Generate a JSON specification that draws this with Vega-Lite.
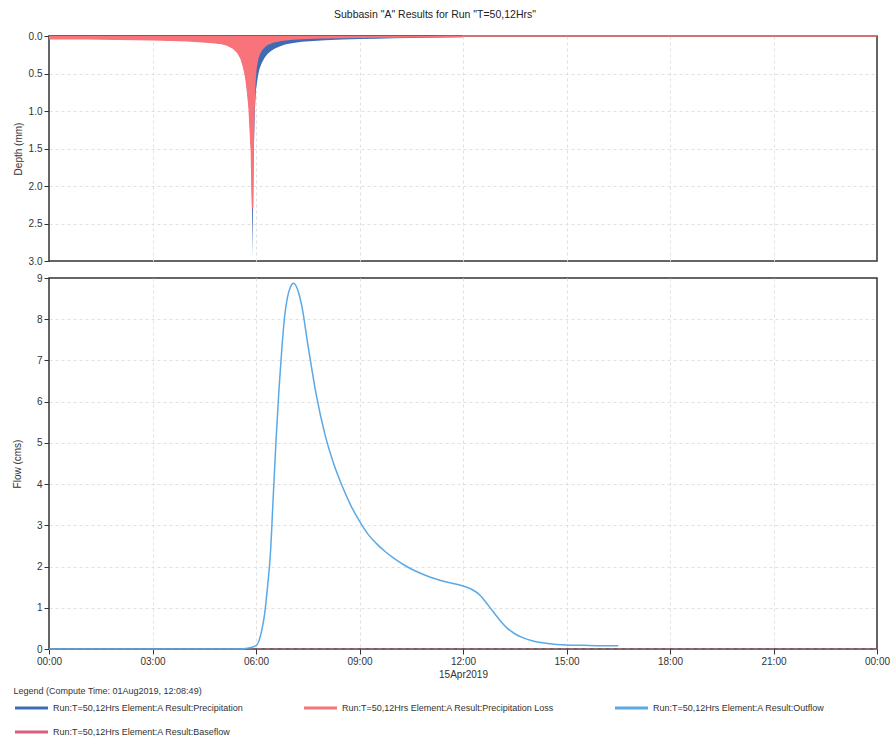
{
  "$schema": "https://vega.github.io/schema/vega-lite/v6.json",
  "title": {"text": "Subbasin \"A\" Results for Run \"T=50,12Hrs\"", "fontSize": 10.5, "fontWeight": "normal", "font": "Liberation Sans", "color": "#222", "anchor": "middle", "dx": -16, "offset": 10},
  "padding": {"left": 11, "top": 9, "right": 0, "bottom": 2},
  "spacing": 5,
  "config": {
    "font": "Liberation Sans",
    "view": {"stroke": "#333", "strokeWidth": 1.5},
    "area": {"opacity": 1, "fillOpacity": 1},
    "axis": {"labelFont": "Liberation Sans", "labelFontSize": 10, "labelColor": "#333", "titleFont": "Liberation Sans", "titleFontSize": 10, "titleFontWeight": "normal", "titleColor": "#333", "gridColor": "#e0e0e0", "gridDash": [3, 3], "tickColor": "#333", "domain": false, "tickSize": 5, "labelPadding": 2}
  },
  "vconcat": [
    {
      "width": 828,
      "height": 225,
      "data": {"values": [
        {"t": "2019-04-15T00:00", "p": 0.035, "l": 0.035},
        {"t": "2019-04-15T00:30", "p": 0.035, "l": 0.035},
        {"t": "2019-04-15T01:00", "p": 0.037, "l": 0.037},
        {"t": "2019-04-15T01:30", "p": 0.04, "l": 0.04},
        {"t": "2019-04-15T02:00", "p": 0.042, "l": 0.042},
        {"t": "2019-04-15T02:30", "p": 0.046, "l": 0.046},
        {"t": "2019-04-15T03:00", "p": 0.05, "l": 0.05},
        {"t": "2019-04-15T03:30", "p": 0.056, "l": 0.056},
        {"t": "2019-04-15T04:00", "p": 0.064, "l": 0.064},
        {"t": "2019-04-15T04:20", "p": 0.072, "l": 0.072},
        {"t": "2019-04-15T04:40", "p": 0.085, "l": 0.085},
        {"t": "2019-04-15T05:00", "p": 0.1, "l": 0.1},
        {"t": "2019-04-15T05:10", "p": 0.12, "l": 0.12},
        {"t": "2019-04-15T05:20", "p": 0.16, "l": 0.16},
        {"t": "2019-04-15T05:28", "p": 0.22, "l": 0.22},
        {"t": "2019-04-15T05:34", "p": 0.3, "l": 0.3},
        {"t": "2019-04-15T05:38", "p": 0.4, "l": 0.4},
        {"t": "2019-04-15T05:42", "p": 0.55, "l": 0.54},
        {"t": "2019-04-15T05:45", "p": 0.75, "l": 0.72},
        {"t": "2019-04-15T05:48", "p": 1.0, "l": 0.95},
        {"t": "2019-04-15T05:50", "p": 1.3, "l": 1.25},
        {"t": "2019-04-15T05:52", "p": 1.6, "l": 1.55},
        {"t": "2019-04-15T05:53", "p": 2.2, "l": 2.0},
        {"t": "2019-04-15T05:54", "p": 2.93, "l": 2.3},
        {"t": "2019-04-15T05:55", "p": 2.2, "l": 1.5},
        {"t": "2019-04-15T05:56", "p": 1.6, "l": 1.1},
        {"t": "2019-04-15T05:58", "p": 1.0, "l": 0.62},
        {"t": "2019-04-15T06:00", "p": 0.72, "l": 0.42},
        {"t": "2019-04-15T06:03", "p": 0.55, "l": 0.3},
        {"t": "2019-04-15T06:06", "p": 0.44, "l": 0.23},
        {"t": "2019-04-15T06:10", "p": 0.36, "l": 0.18},
        {"t": "2019-04-15T06:15", "p": 0.29, "l": 0.14},
        {"t": "2019-04-15T06:20", "p": 0.24, "l": 0.11},
        {"t": "2019-04-15T06:26", "p": 0.2, "l": 0.09},
        {"t": "2019-04-15T06:33", "p": 0.165, "l": 0.075},
        {"t": "2019-04-15T06:42", "p": 0.135, "l": 0.06},
        {"t": "2019-04-15T06:52", "p": 0.11, "l": 0.05},
        {"t": "2019-04-15T07:05", "p": 0.092, "l": 0.04},
        {"t": "2019-04-15T07:20", "p": 0.078, "l": 0.034},
        {"t": "2019-04-15T07:40", "p": 0.066, "l": 0.028},
        {"t": "2019-04-15T08:00", "p": 0.057, "l": 0.024},
        {"t": "2019-04-15T08:30", "p": 0.048, "l": 0.02},
        {"t": "2019-04-15T09:00", "p": 0.041, "l": 0.017},
        {"t": "2019-04-15T09:30", "p": 0.035, "l": 0.014},
        {"t": "2019-04-15T10:00", "p": 0.03, "l": 0.012},
        {"t": "2019-04-15T10:30", "p": 0.026, "l": 0.01},
        {"t": "2019-04-15T11:00", "p": 0.022, "l": 0.009},
        {"t": "2019-04-15T11:30", "p": 0.019, "l": 0.008},
        {"t": "2019-04-15T11:59", "p": 0.017, "l": 0.007},
        {"t": "2019-04-15T12:00", "p": 0, "l": 0},
        {"t": "2019-04-16T00:00", "p": null, "l": 0}
      ]},
      "layer": [
        {
          "transform": [{"filter": "datum.p != null"}],
          "mark": {"type": "area", "interpolate": "linear", "color": "#3d6cb4", "opacity": 1},
          "encoding": {
            "x": {"field": "t", "type": "temporal",
              "scale": {"domain": [{"year": 2019, "month": 4, "date": 15, "hours": 0}, {"year": 2019, "month": 4, "date": 16, "hours": 0}], "nice": false},
              "axis": {"labels": false, "ticks": false, "title": null, "grid": true, "values": [{"year": 2019, "month": 4, "date": 15, "hours": 3}, {"year": 2019, "month": 4, "date": 15, "hours": 6}, {"year": 2019, "month": 4, "date": 15, "hours": 9}, {"year": 2019, "month": 4, "date": 15, "hours": 12}, {"year": 2019, "month": 4, "date": 15, "hours": 15}, {"year": 2019, "month": 4, "date": 15, "hours": 18}, {"year": 2019, "month": 4, "date": 15, "hours": 21}]}},
            "y": {"field": "p", "type": "quantitative",
              "scale": {"domain": [0, 3], "reverse": true, "nice": false},
              "axis": {"title": "Depth (mm)", "values": [0, 0.5, 1, 1.5, 2, 2.5, 3], "tickCount": 7, "labelOverlap": false, "format": ".1f", "grid": true, "titlePadding": 5, "gridOpacity": {"condition": {"test": "datum.value == 0 || datum.value == 3", "value": 0}, "value": 1}}}
          }
        },
        {
          "mark": {"type": "area", "interpolate": "linear", "color": "#f8747a", "opacity": 1, "line": {"color": "#f8747a", "strokeWidth": 1.5}},
          "encoding": {
            "x": {"field": "t", "type": "temporal"},
            "y": {"field": "l", "type": "quantitative",
              "axis": {"title": "Depth (mm)", "values": [0, 0.5, 1, 1.5, 2, 2.5, 3], "tickCount": 7, "labelOverlap": false, "format": ".1f", "grid": true, "titlePadding": 5, "gridOpacity": {"condition": {"test": "datum.value == 0 || datum.value == 3", "value": 0}, "value": 1}}}
          }
        }
      ]
    },
    {
      "width": 828,
      "height": 371,
      "data": {"values": [
        {"t": "2019-04-15T00:00", "s": "Run:T=50,12Hrs Element:A Result:Baseflow", "v": 0},
        {"t": "2019-04-16T00:00", "s": "Run:T=50,12Hrs Element:A Result:Baseflow", "v": 0},
        {"t": "2019-04-15T00:00", "s": "Run:T=50,12Hrs Element:A Result:Outflow", "v": 0},
        {"t": "2019-04-15T05:30", "s": "Run:T=50,12Hrs Element:A Result:Outflow", "v": 0},
        {"t": "2019-04-15T05:45", "s": "Run:T=50,12Hrs Element:A Result:Outflow", "v": 0.02},
        {"t": "2019-04-15T06:00", "s": "Run:T=50,12Hrs Element:A Result:Outflow", "v": 0.08},
        {"t": "2019-04-15T06:10", "s": "Run:T=50,12Hrs Element:A Result:Outflow", "v": 0.45},
        {"t": "2019-04-15T06:15", "s": "Run:T=50,12Hrs Element:A Result:Outflow", "v": 0.85},
        {"t": "2019-04-15T06:20", "s": "Run:T=50,12Hrs Element:A Result:Outflow", "v": 1.5},
        {"t": "2019-04-15T06:25", "s": "Run:T=50,12Hrs Element:A Result:Outflow", "v": 2.3},
        {"t": "2019-04-15T06:30", "s": "Run:T=50,12Hrs Element:A Result:Outflow", "v": 3.7},
        {"t": "2019-04-15T06:35", "s": "Run:T=50,12Hrs Element:A Result:Outflow", "v": 5.1},
        {"t": "2019-04-15T06:40", "s": "Run:T=50,12Hrs Element:A Result:Outflow", "v": 6.3},
        {"t": "2019-04-15T06:45", "s": "Run:T=50,12Hrs Element:A Result:Outflow", "v": 7.3},
        {"t": "2019-04-15T06:50", "s": "Run:T=50,12Hrs Element:A Result:Outflow", "v": 8.1},
        {"t": "2019-04-15T06:55", "s": "Run:T=50,12Hrs Element:A Result:Outflow", "v": 8.55},
        {"t": "2019-04-15T07:00", "s": "Run:T=50,12Hrs Element:A Result:Outflow", "v": 8.78},
        {"t": "2019-04-15T07:05", "s": "Run:T=50,12Hrs Element:A Result:Outflow", "v": 8.87},
        {"t": "2019-04-15T07:10", "s": "Run:T=50,12Hrs Element:A Result:Outflow", "v": 8.8},
        {"t": "2019-04-15T07:15", "s": "Run:T=50,12Hrs Element:A Result:Outflow", "v": 8.6},
        {"t": "2019-04-15T07:20", "s": "Run:T=50,12Hrs Element:A Result:Outflow", "v": 8.3},
        {"t": "2019-04-15T07:30", "s": "Run:T=50,12Hrs Element:A Result:Outflow", "v": 7.4},
        {"t": "2019-04-15T07:45", "s": "Run:T=50,12Hrs Element:A Result:Outflow", "v": 6.15},
        {"t": "2019-04-15T08:00", "s": "Run:T=50,12Hrs Element:A Result:Outflow", "v": 5.2},
        {"t": "2019-04-15T08:15", "s": "Run:T=50,12Hrs Element:A Result:Outflow", "v": 4.5},
        {"t": "2019-04-15T08:30", "s": "Run:T=50,12Hrs Element:A Result:Outflow", "v": 3.95},
        {"t": "2019-04-15T08:45", "s": "Run:T=50,12Hrs Element:A Result:Outflow", "v": 3.48},
        {"t": "2019-04-15T09:00", "s": "Run:T=50,12Hrs Element:A Result:Outflow", "v": 3.1},
        {"t": "2019-04-15T09:15", "s": "Run:T=50,12Hrs Element:A Result:Outflow", "v": 2.78},
        {"t": "2019-04-15T09:30", "s": "Run:T=50,12Hrs Element:A Result:Outflow", "v": 2.55},
        {"t": "2019-04-15T09:45", "s": "Run:T=50,12Hrs Element:A Result:Outflow", "v": 2.36},
        {"t": "2019-04-15T10:00", "s": "Run:T=50,12Hrs Element:A Result:Outflow", "v": 2.2},
        {"t": "2019-04-15T10:30", "s": "Run:T=50,12Hrs Element:A Result:Outflow", "v": 1.94},
        {"t": "2019-04-15T11:00", "s": "Run:T=50,12Hrs Element:A Result:Outflow", "v": 1.76},
        {"t": "2019-04-15T11:30", "s": "Run:T=50,12Hrs Element:A Result:Outflow", "v": 1.63},
        {"t": "2019-04-15T12:00", "s": "Run:T=50,12Hrs Element:A Result:Outflow", "v": 1.53},
        {"t": "2019-04-15T12:15", "s": "Run:T=50,12Hrs Element:A Result:Outflow", "v": 1.45},
        {"t": "2019-04-15T12:30", "s": "Run:T=50,12Hrs Element:A Result:Outflow", "v": 1.3},
        {"t": "2019-04-15T12:45", "s": "Run:T=50,12Hrs Element:A Result:Outflow", "v": 1.04},
        {"t": "2019-04-15T13:00", "s": "Run:T=50,12Hrs Element:A Result:Outflow", "v": 0.77},
        {"t": "2019-04-15T13:15", "s": "Run:T=50,12Hrs Element:A Result:Outflow", "v": 0.53},
        {"t": "2019-04-15T13:30", "s": "Run:T=50,12Hrs Element:A Result:Outflow", "v": 0.37},
        {"t": "2019-04-15T13:45", "s": "Run:T=50,12Hrs Element:A Result:Outflow", "v": 0.27},
        {"t": "2019-04-15T14:00", "s": "Run:T=50,12Hrs Element:A Result:Outflow", "v": 0.2},
        {"t": "2019-04-15T14:30", "s": "Run:T=50,12Hrs Element:A Result:Outflow", "v": 0.13},
        {"t": "2019-04-15T15:00", "s": "Run:T=50,12Hrs Element:A Result:Outflow", "v": 0.1},
        {"t": "2019-04-15T15:30", "s": "Run:T=50,12Hrs Element:A Result:Outflow", "v": 0.09},
        {"t": "2019-04-15T16:00", "s": "Run:T=50,12Hrs Element:A Result:Outflow", "v": 0.08},
        {"t": "2019-04-15T16:30", "s": "Run:T=50,12Hrs Element:A Result:Outflow", "v": 0.08}
      ]},
      "encoding": {
        "x": {"field": "t", "type": "temporal",
          "scale": {"domain": [{"year": 2019, "month": 4, "date": 15, "hours": 0}, {"year": 2019, "month": 4, "date": 16, "hours": 0}], "nice": false},
          "axis": {"title": "15Apr2019", "format": "%H:%M", "grid": true, "labelFlush": false, "titlePadding": 3, "gridOpacity": {"condition": {"test": "hours(datum.value) == 0", "value": 0}, "value": 1}, "values": [{"year": 2019, "month": 4, "date": 15, "hours": 0}, {"year": 2019, "month": 4, "date": 15, "hours": 3}, {"year": 2019, "month": 4, "date": 15, "hours": 6}, {"year": 2019, "month": 4, "date": 15, "hours": 9}, {"year": 2019, "month": 4, "date": 15, "hours": 12}, {"year": 2019, "month": 4, "date": 15, "hours": 15}, {"year": 2019, "month": 4, "date": 15, "hours": 18}, {"year": 2019, "month": 4, "date": 15, "hours": 21}, {"year": 2019, "month": 4, "date": 16, "hours": 0}]}},
        "y": {"field": "v", "type": "quantitative",
          "scale": {"domain": [0, 9], "nice": false},
          "axis": {"title": "Flow (cms)", "values": [0, 1, 2, 3, 4, 5, 6, 7, 8, 9], "grid": true, "titlePadding": 14, "gridOpacity": {"condition": {"test": "datum.value == 0 || datum.value == 9", "value": 0}, "value": 1}}},
        "color": {"field": "s", "type": "nominal",
          "scale": {"domain": ["Run:T=50,12Hrs Element:A Result:Precipitation", "Run:T=50,12Hrs Element:A Result:Precipitation Loss", "Run:T=50,12Hrs Element:A Result:Outflow", "Run:T=50,12Hrs Element:A Result:Baseflow"], "range": ["#3d6cb4", "#f8747a", "#5aa9e6", "#d9607a"]},
          "legend": {"title": "Legend (Compute Time: 01Aug2019, 12:08:49)", "titleLimit": 400, "orient": "none", "legendX": -35.5, "legendY": 651, "direction": "horizontal", "columns": 3, "columnPadding": 54, "rowPadding": -24, "symbolType": "stroke", "symbolSize": 1089, "symbolStrokeWidth": 3, "labelOffset": 3.5, "labelFontSize": 9, "labelColor": "#333", "labelLimit": 400, "titleFontSize": 9, "titleFontWeight": "normal", "titleColor": "#333", "titlePadding": -6}}
      },
      "layer": [
        {
          "transform": [{"filter": "indexof(datum.s, 'Baseflow') >= 0"}],
          "mark": {"type": "line", "strokeWidth": 1.2, "strokeDash": [5, 3]}
        },
        {
          "transform": [{"filter": "indexof(datum.s, 'Outflow') >= 0"}],
          "mark": {"type": "line", "interpolate": "monotone", "strokeWidth": 1.5}
        }
      ]
    }
  ]
}
